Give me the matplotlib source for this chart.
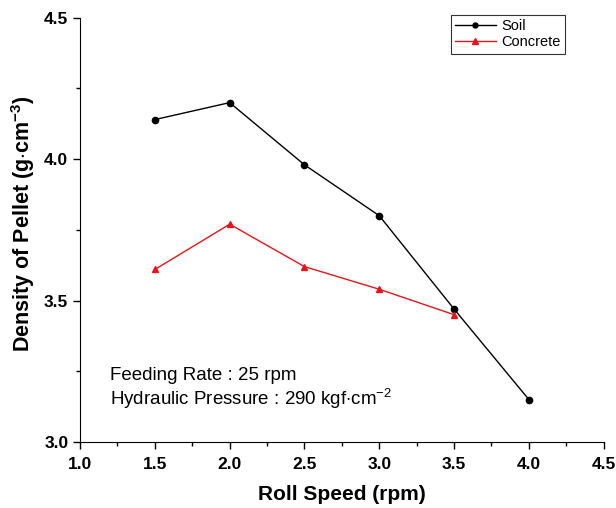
import matplotlib
matplotlib.use("Agg")
import matplotlib.pyplot as plt
from matplotlib.ticker import MultipleLocator

plt.rcParams['font.family'] = ['Liberation Sans', 'DejaVu Sans']
plt.rcParams['mathtext.fontset'] = 'custom'
plt.rcParams['mathtext.rm'] = 'Liberation Sans'
plt.rcParams['mathtext.it'] = 'Liberation Sans:italic'
plt.rcParams['mathtext.bf'] = 'Liberation Sans:bold'

roll_speed_soil = [1.5, 2.0, 2.5, 3.0, 3.5, 4.0]
density_soil = [4.14, 4.20, 3.98, 3.80, 3.47, 3.15]
roll_speed_concrete = [1.5, 2.0, 2.5, 3.0, 3.5]
density_concrete = [3.61, 3.77, 3.62, 3.54, 3.45]

x_ticks = [1.0, 1.5, 2.0, 2.5, 3.0, 3.5, 4.0, 4.5]
y_ticks = [3.0, 3.5, 4.0, 4.5]

fig = plt.figure(figsize=(6.16, 5.08), dpi=100)
ax = fig.add_axes([0.130, 0.130, 0.850, 0.835])

ax.plot(roll_speed_soil, density_soil, color='black', marker='o', markersize=4.5,
        linewidth=1.0, label='Soil')
ax.plot(roll_speed_concrete, density_concrete, color='#e8141c', marker='^', markersize=5,
        linewidth=1.0, label='Concrete')

ax.set_xlim(1.0, 4.5)
ax.set_ylim(3.0, 4.5)
ax.set_xticks(x_ticks)
ax.set_yticks(y_ticks)
ax.set_xticklabels([f"{v:.1f}" for v in x_ticks], fontweight='bold', fontsize=12.5)
ax.set_yticklabels([f"{v:.1f}" for v in y_ticks], fontweight='bold', fontsize=12.5)
ax.xaxis.set_minor_locator(MultipleLocator(0.25))
ax.yaxis.set_minor_locator(MultipleLocator(0.25))
ax.tick_params(which='major', direction='out', length=5, width=1)
ax.tick_params(which='minor', direction='out', length=3, width=1)
ax.tick_params(axis='x', which='major', pad=6)

for side in ('top', 'right'):
    ax.spines[side].set_visible(False)

ax.set_xlabel('Roll Speed (rpm)', fontsize=15, fontweight='bold', labelpad=9)
ax.set_ylabel(r'Density of Pellet (g$\mathbf{\cdot}$cm$^{\mathbf{-3}}$)', fontsize=15.5,
              fontweight='bold')
ax.yaxis.set_label_coords(-0.082, 0.515)

ax.text(1.2, 3.22, 'Feeding Rate : 25 rpm', fontsize=13.5)
ax.text(1.2, 3.13, r'Hydraulic Pressure : 290 kgf$\cdot$cm$^{-2}$', fontsize=13.5)

leg = ax.legend(loc='upper right', bbox_to_anchor=(0.927, 1.007), borderaxespad=0,
                fontsize=10.5, frameon=True, fancybox=False, edgecolor='black',
                handlelength=2.8, borderpad=0.3, labelspacing=0.15, handletextpad=0.4,
                markerscale=0.8)
leg.get_frame().set_linewidth(0.8)

fig.savefig('out.png', dpi=100)
